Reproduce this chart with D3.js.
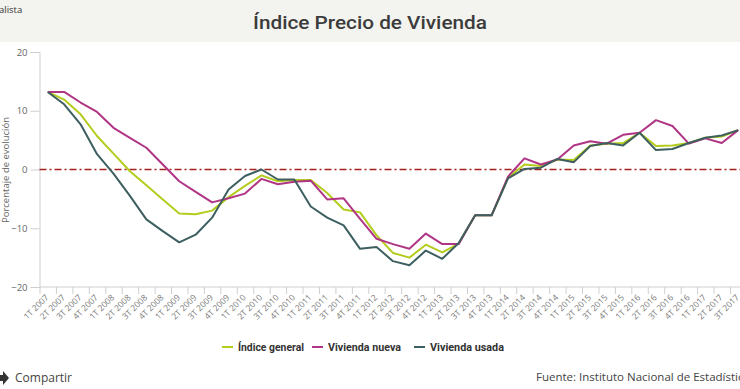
<!DOCTYPE html>
<html>
<head>
<meta charset="utf-8">
<script src="https://cdn.jsdelivr.net/npm/d3@7"></script>
<style>
  html, body { margin: 0; padding: 0; background: #fff; }
  svg { display: block; font-family: "Open Sans", sans-serif; }
</style>
</head>
<body>
<svg id="chart" width="740" height="389"></svg>
<script>
// quarters on the x axis
const quarters = [
  "1T 2007", "2T 2007", "3T 2007", "4T 2007",
  "1T 2008", "2T 2008", "3T 2008", "4T 2008",
  "1T 2009", "2T 2009", "3T 2009", "4T 2009",
  "1T 2010", "2T 2010", "3T 2010", "4T 2010",
  "1T 2011", "2T 2011", "3T 2011", "4T 2011",
  "1T 2012", "2T 2012", "3T 2012", "4T 2012",
  "1T 2013", "2T 2013", "3T 2013", "4T 2013",
  "1T 2014", "2T 2014", "3T 2014", "4T 2014",
  "1T 2015", "2T 2015", "3T 2015", "4T 2015",
  "1T 2016", "2T 2016", "3T 2016", "4T 2016",
  "1T 2017", "2T 2017", "3T 2017"
]

// series values (% evolution)
const indiceGeneral = [
  13.2, 11.9, 9.4, 5.7,
  2.7, -0.3, -2.7, -5.1,
  -7.5, -7.6, -7.0, -4.7,
  -2.8, -1.0, -2.0, -1.8,
  -1.8, -4.0, -6.8, -7.3,
  -11.2, -14.2, -15.0, -12.8,
  -14.1, -12.6, -7.8, -7.8,
  -1.4, 0.85, 0.6, 1.7,
  1.6, 4.1, 4.4, 4.5,
  6.25, 4.0, 4.1, 4.5,
  5.4, 5.6, 6.7
]
const viviendaNueva = [
  13.2, 13.2, 11.4, 9.8,
  7.1, 5.4, 3.7, 0.85,
  -2.0, -3.8, -5.6, -4.9,
  -4.1, -1.6, -2.5, -2.1,
  -1.9, -5.1, -4.9, -8.4,
  -11.8, -12.7, -13.5, -10.9,
  -12.7, -12.7, -7.8, -7.8,
  -1.2, 1.9, 0.85, 1.7,
  4.1, 4.8, 4.4, 5.9,
  6.25, 8.4, 7.4, 4.4,
  5.3, 4.5, 6.7
]
const viviendaUsada = [
  13.2, 11.1, 7.7, 2.6,
  -0.7, -4.5, -8.5, -10.5,
  -12.4, -11.1, -8.2, -3.4,
  -1.1, 0.0, -1.7, -1.7,
  -6.3, -8.2, -9.5, -13.5,
  -13.2, -15.6, -16.3, -13.8,
  -15.2, -12.5, -7.8, -7.8,
  -1.5, 0.1, 0.3, 1.8,
  1.25, 4.0, 4.5, 4.1,
  6.25, 3.3, 3.5, 4.5,
  5.4, 5.8, 6.7
]
const yTicks = [-20, -10, 0, 10, 20]

const seriesList = [
  { name: "Índice general", values: indiceGeneral, color: "#b4cc1c" },
  { name: "Vivienda nueva", values: viviendaNueva, color: "#b03585" },
  { name: "Vivienda usada", values: viviendaUsada, color: "#3d5f5f" }
]

const svg = d3.select("#chart")

// header band
svg.append("rect")
  .attr("x", 0).attr("y", 0)
  .attr("width", 740).attr("height", 42)
  .attr("fill", "#f3f3ef")
svg.append("text")
  .attr("x", -1).attr("y", 13)
  .attr("font-size", 9.5)
  .attr("fill", "#333")
  .text("alista")
svg.append("text")
  .attr("x", 370).attr("y", 29)
  .attr("text-anchor", "middle")
  .attr("font-family", "Roboto, sans-serif")
  .attr("font-weight", 500)
  .attr("font-size", 19)
  .attr("fill", "#3b3b3b")
  .attr("textLength", 234)
  .attr("lengthAdjust", "spacingAndGlyphs")
  .text("Índice Precio de Vivienda")

// scales
const left = 39.5
const x = d3.scalePoint()
  .domain(quarters)
  .range([left, left + 43 * 16.44])
  .padding(0.5)
const step = x.step()
const y = d3.scaleLinear().domain([-20, 20]).range([287, 52])

// y axis
const yAxis = svg.append("g")
  .attr("transform", `translate(${left},0)`)
  .call(d3.axisLeft(y).tickValues(yTicks).tickSize(9).tickPadding(3))
yAxis.select(".domain").attr("stroke", "#cfcfcf")
yAxis.selectAll(".tick line").attr("stroke", "#cfcfcf")
yAxis.selectAll(".tick text")
  .attr("font-family", "Open Sans, sans-serif")
  .attr("font-size", 9.5)
  .attr("fill", "#666")

svg.append("text")
  .attr("transform", `translate(9,170) rotate(-90)`)
  .attr("text-anchor", "middle")
  .attr("font-size", 9.5)
  .attr("fill", "#666")
  .text("Porcentaje de evolución")

// x axis: line, ticks at band edges, rotated labels
const xAxis = svg.append("g")
xAxis.append("line")
  .attr("x1", left).attr("x2", 740)
  .attr("y1", y(-20)).attr("y2", y(-20))
  .attr("stroke", "#cfcfcf")
xAxis.selectAll(".xtick")
  .data(quarters)
  .join("line")
  .attr("class", "xtick")
  .attr("x1", d => x(d) - step / 2 + 0.5)
  .attr("x2", d => x(d) - step / 2 + 0.5)
  .attr("y1", y(-20)).attr("y2", y(-20) + 7)
  .attr("stroke", "#cfcfcf")
xAxis.selectAll(".xlabel")
  .data(quarters)
  .join("text")
  .attr("class", "xlabel")
  .attr("transform", d => `translate(${x(d) + 1.5},${y(-20) + 11}) rotate(-45)`)
  .attr("text-anchor", "end")
  .attr("font-size", 8.5)
  .attr("fill", "#777")
  .text(d => d)

// zero reference line
svg.append("line")
  .attr("x1", left).attr("x2", 740)
  .attr("y1", y(0)).attr("y2", y(0))
  .attr("stroke", "#a3221d")
  .attr("stroke-width", 1.5)
  .attr("stroke-dasharray", "7,3,2,3")

// series lines
const line = d3.line()
  .x((d, i) => x(quarters[i]))
  .y(d => y(d))

seriesList.forEach(s => {
  svg.append("path")
    .datum(s.values)
    .attr("fill", "none")
    .attr("stroke", s.color)
    .attr("stroke-width", 2)
    .attr("stroke-linejoin", "round")
    .attr("d", line)
})

// legend
const legendX = [222, 312, 414]
const legendW = [66, 73, 74]
const legend = svg.append("g")
seriesList.forEach((s, i) => {
  legend.append("line")
    .attr("x1", legendX[i]).attr("x2", legendX[i] + 11)
    .attr("y1", 347).attr("y2", 347)
    .attr("stroke", s.color)
    .attr("stroke-width", 2)
  legend.append("text")
    .attr("x", legendX[i] + 16).attr("y", 351)
    .attr("font-family", "Roboto, sans-serif")
    .attr("font-weight", 700)
    .attr("font-size", 11.5)
    .attr("fill", "#333")
    .attr("textLength", legendW[i])
    .attr("lengthAdjust", "spacingAndGlyphs")
    .text(s.name)
})

// footer
svg.append("path")
  .attr("d", "M-2,375 L3,375 L3,371 L9,378 L3,385 L3,381 L-2,381 Z")
  .attr("fill", "#333")
svg.append("text")
  .attr("x", 15).attr("y", 382)
  .attr("font-size", 12)
  .attr("fill", "#444")
  .text("Compartir")
svg.append("text")
  .attr("x", 536).attr("y", 381)
  .attr("font-size", 11.5)
  .attr("fill", "#444")
  .text("Fuente: Instituto Nacional de Estadística")
</script>
</body>
</html>
